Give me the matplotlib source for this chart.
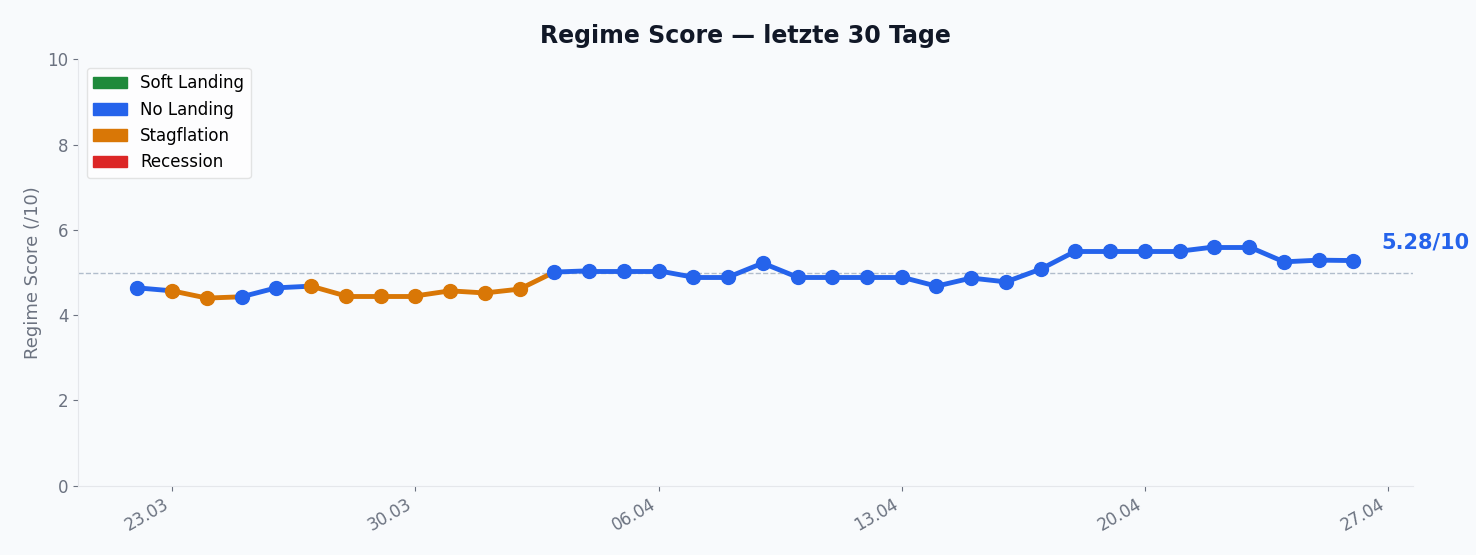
import matplotlib
matplotlib.use("Agg")
import matplotlib.pyplot as plt
import matplotlib.dates as mdates
from matplotlib.patches import Patch
import pandas as pd

dates = pd.date_range("2025-03-22", periods=36, freq="D")
scores = [4.64, 4.57, 4.40, 4.43, 4.64, 4.68, 4.45, 4.45, 4.45, 4.57, 4.52, 4.61,
          5.01, 5.04, 5.04, 5.04, 4.89, 4.89, 5.22, 4.89, 4.89, 4.89, 4.89, 4.68,
          4.87, 4.78, 5.08, 5.50, 5.50, 5.50, 5.50, 5.60, 5.60, 5.25, 5.29, 5.28]
regimes = ["No Landing", "Stagflation", "Stagflation", "No Landing", "No Landing",
           "Stagflation", "Stagflation", "Stagflation", "Stagflation", "Stagflation",
           "Stagflation", "Stagflation"] + ["No Landing"] * 24

colors = {"Soft Landing": "#1f8a3b", "No Landing": "#2563eb",
          "Stagflation": "#d97706", "Recession": "#dc2626"}
bg = "#f8fafc"

fig, ax = plt.subplots(figsize=(14.76, 5.55), dpi=100)
fig.patch.set_facecolor(bg)
ax.set_facecolor(bg)

ax.axhline(5, color="#94a3b8", ls="--", lw=1, alpha=0.7)
for i in range(len(scores) - 1):
    ax.plot(dates[i:i + 2], scores[i:i + 2], color=colors[regimes[i]], lw=3.5,
            solid_capstyle="round", zorder=2)
for d, s, r in zip(dates, scores, regimes):
    ax.plot(d, s, "o", color=colors[r], ms=10, zorder=3)

ax.annotate(f"{scores[-1]:.2f}/10", (dates[-1], scores[-1]), xytext=(20, 6),
            textcoords="offset points", color="#2563eb", fontsize=15,
            fontweight="bold", va="bottom")

ax.set_ylim(0, 10)
ax.set_xlim(dates[0] - pd.Timedelta(days=1.7), dates[-1] + pd.Timedelta(days=1.7))
ax.xaxis.set_major_locator(mdates.WeekdayLocator(byweekday=mdates.SU))
ax.xaxis.set_major_formatter(mdates.DateFormatter("%d.%m"))
plt.setp(ax.get_xticklabels(), rotation=30, ha="right")
ax.tick_params(colors="#6b7280", labelsize=12)
ax.set_ylabel("Regime Score (/10)", color="#6b7280", fontsize=13)
ax.set_title("Regime Score — letzte 30 Tage", fontsize=17, fontweight="bold",
             color="#111827", pad=12)
for sp in ["top", "right"]:
    ax.spines[sp].set_visible(False)
for sp in ["left", "bottom"]:
    ax.spines[sp].set_color("#e5e7eb")

handles = [Patch(color=c, label=k) for k, c in colors.items()]
ax.legend(handles=handles, loc="upper left", fontsize=12, facecolor="white",
          edgecolor="#dddddd")

plt.subplots_adjust(left=0.053, right=0.957, top=0.893, bottom=0.125)
plt.savefig("out.png", facecolor=bg)
